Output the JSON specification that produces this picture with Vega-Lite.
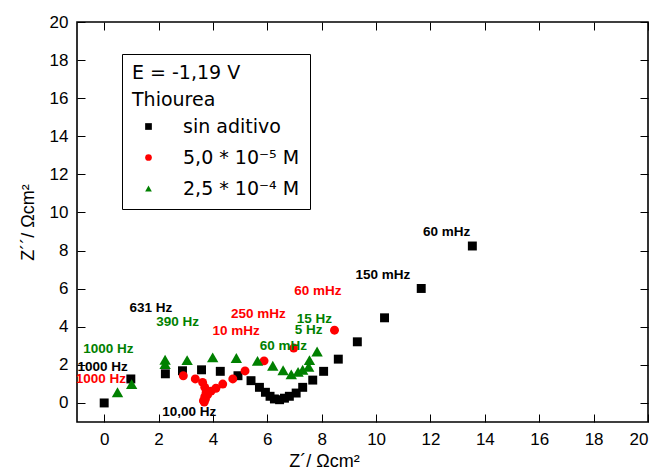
{
  "$schema": "https://vega.github.io/schema/vega-lite/v6.json",
  "width": 571,
  "height": 400,
  "autosize": {"type": "none"},
  "padding": {"left": 77, "top": 22, "right": 10, "bottom": 49},
  "background": "white",
  "datasets": {
    "pts": [
      {"series": "sin aditivo", "x": 0.0, "y": 0.0},
      {"series": "sin aditivo", "x": 0.98, "y": 1.26},
      {"series": "sin aditivo", "x": 2.25, "y": 1.53},
      {"series": "sin aditivo", "x": 2.88, "y": 1.69},
      {"series": "sin aditivo", "x": 3.58, "y": 1.74},
      {"series": "sin aditivo", "x": 4.27, "y": 1.66},
      {"series": "sin aditivo", "x": 4.92, "y": 1.43},
      {"series": "sin aditivo", "x": 5.40, "y": 1.17},
      {"series": "sin aditivo", "x": 5.71, "y": 0.82},
      {"series": "sin aditivo", "x": 5.93, "y": 0.56},
      {"series": "sin aditivo", "x": 6.10, "y": 0.35},
      {"series": "sin aditivo", "x": 6.26, "y": 0.21},
      {"series": "sin aditivo", "x": 6.45, "y": 0.17},
      {"series": "sin aditivo", "x": 6.63, "y": 0.25},
      {"series": "sin aditivo", "x": 6.81, "y": 0.35},
      {"series": "sin aditivo", "x": 7.06, "y": 0.52},
      {"series": "sin aditivo", "x": 7.30, "y": 0.82},
      {"series": "sin aditivo", "x": 7.67, "y": 1.20},
      {"series": "sin aditivo", "x": 8.07, "y": 1.66},
      {"series": "sin aditivo", "x": 8.61, "y": 2.30},
      {"series": "sin aditivo", "x": 9.31, "y": 3.21},
      {"series": "sin aditivo", "x": 10.31, "y": 4.47},
      {"series": "sin aditivo", "x": 11.66, "y": 6.01},
      {"series": "sin aditivo", "x": 13.54, "y": 8.24},
      {"series": "5,0 * 10⁻⁵ M", "x": 2.91, "y": 1.43},
      {"series": "5,0 * 10⁻⁵ M", "x": 3.35, "y": 1.26},
      {"series": "5,0 * 10⁻⁵ M", "x": 3.62, "y": 1.08},
      {"series": "5,0 * 10⁻⁵ M", "x": 3.70, "y": 0.82},
      {"series": "5,0 * 10⁻⁵ M", "x": 3.75, "y": 0.56},
      {"series": "5,0 * 10⁻⁵ M", "x": 3.70, "y": 0.33},
      {"series": "5,0 * 10⁻⁵ M", "x": 3.65, "y": 0.12},
      {"series": "5,0 * 10⁻⁵ M", "x": 3.68, "y": 0.05},
      {"series": "5,0 * 10⁻⁵ M", "x": 3.72, "y": 0.20},
      {"series": "5,0 * 10⁻⁵ M", "x": 3.80, "y": 0.42},
      {"series": "5,0 * 10⁻⁵ M", "x": 3.93, "y": 0.62},
      {"series": "5,0 * 10⁻⁵ M", "x": 4.11, "y": 0.77},
      {"series": "5,0 * 10⁻⁵ M", "x": 4.36, "y": 0.99},
      {"series": "5,0 * 10⁻⁵ M", "x": 4.73, "y": 1.26},
      {"series": "5,0 * 10⁻⁵ M", "x": 5.18, "y": 1.68},
      {"series": "5,0 * 10⁻⁵ M", "x": 5.88, "y": 2.21},
      {"series": "5,0 * 10⁻⁵ M", "x": 6.97, "y": 2.88},
      {"series": "5,0 * 10⁻⁵ M", "x": 8.47, "y": 3.82},
      {"series": "2,5 * 10⁻⁴ M", "x": 0.49, "y": 0.56},
      {"series": "2,5 * 10⁻⁴ M", "x": 1.01, "y": 0.99},
      {"series": "2,5 * 10⁻⁴ M", "x": 2.24, "y": 2.04},
      {"series": "2,5 * 10⁻⁴ M", "x": 2.24, "y": 2.27},
      {"series": "2,5 * 10⁻⁴ M", "x": 3.05, "y": 2.25},
      {"series": "2,5 * 10⁻⁴ M", "x": 3.99, "y": 2.39},
      {"series": "2,5 * 10⁻⁴ M", "x": 4.86, "y": 2.36},
      {"series": "2,5 * 10⁻⁴ M", "x": 5.64, "y": 2.21},
      {"series": "2,5 * 10⁻⁴ M", "x": 6.20, "y": 1.95},
      {"series": "2,5 * 10⁻⁴ M", "x": 6.58, "y": 1.72},
      {"series": "2,5 * 10⁻⁴ M", "x": 6.88, "y": 1.50},
      {"series": "2,5 * 10⁻⁴ M", "x": 7.13, "y": 1.63},
      {"series": "2,5 * 10⁻⁴ M", "x": 7.30, "y": 1.74},
      {"series": "2,5 * 10⁻⁴ M", "x": 7.52, "y": 1.90},
      {"series": "2,5 * 10⁻⁴ M", "x": 7.55, "y": 2.25},
      {"series": "2,5 * 10⁻⁴ M", "x": 7.83, "y": 2.70}
    ],
    "labs": [
      {"series": "2,5 * 10⁻⁴ M", "x": 0.15, "y": 2.83, "text": "1000 Hz"},
      {"series": "sin aditivo", "x": -0.06, "y": 1.90, "text": "1000 Hz"},
      {"series": "5,0 * 10⁻⁵ M", "x": -0.12, "y": 1.26, "text": "1000 Hz"},
      {"series": "sin aditivo", "x": 1.72, "y": 4.96, "text": "631 Hz"},
      {"series": "2,5 * 10⁻⁴ M", "x": 2.70, "y": 4.23, "text": "390 Hz"},
      {"series": "sin aditivo", "x": 3.13, "y": -0.49, "text": "10,00 Hz"},
      {"series": "5,0 * 10⁻⁵ M", "x": 5.67, "y": 4.66, "text": "250 mHz"},
      {"series": "5,0 * 10⁻⁵ M", "x": 4.85, "y": 3.79, "text": "10 mHz"},
      {"series": "2,5 * 10⁻⁴ M", "x": 6.59, "y": 2.97, "text": "60 mHz"},
      {"series": "2,5 * 10⁻⁴ M", "x": 7.73, "y": 4.43, "text": "15 Hz"},
      {"series": "2,5 * 10⁻⁴ M", "x": 7.52, "y": 3.82, "text": "5 Hz"},
      {"series": "5,0 * 10⁻⁵ M", "x": 7.86, "y": 5.88, "text": "60 mHz"},
      {"series": "sin aditivo", "x": 10.25, "y": 6.70, "text": "150 mHz"},
      {"series": "sin aditivo", "x": 12.59, "y": 8.99, "text": "60 mHz"}
    ]
  },
  "layer": [
    {
      "data": {"name": "pts"},
      "transform": [{"filter": "datum.series !== '2,5 * 10⁻⁴ M'"}],
      "mark": {"type": "point", "filled": true, "opacity": 1, "size": 80},
      "encoding": {
        "x": {
          "field": "x", "type": "quantitative",
          "scale": {"domain": [-1, 20], "nice": false, "zero": false},
          "axis": {"orient": "bottom", "title": "Z´/ Ωcm²", "values": [0,2,4,6,8,10,12,14,16,18,20], "titleX": 247, "titleY": 30}
        },
        "y": {
          "field": "y", "type": "quantitative",
          "scale": {"domain": [-1, 20], "nice": false, "zero": false},
          "axis": {"orient": "left", "title": "Z´´/ Ωcm²", "values": [0,2,4,6,8,10,12,14,16,18,20], "titleX": -40, "titleY": 200}
        },
        "color": {
          "field": "series", "type": "nominal",
          "scale": {"domain": ["sin aditivo", "5,0 * 10⁻⁵ M", "2,5 * 10⁻⁴ M"], "range": ["#000000", "#ff0000", "#008000"]},
          "legend": {"title": ["E = -1,19 V", "Thiourea"], "symbolSize": 45}
        },
        "shape": {
          "field": "series", "type": "nominal",
          "scale": {"domain": ["sin aditivo", "5,0 * 10⁻⁵ M", "2,5 * 10⁻⁴ M"], "range": ["square", "circle", "triangle-up"]},
          "legend": {"title": ["E = -1,19 V", "Thiourea"], "symbolSize": 45}
        }
      }
    },
    {
      "data": {"name": "pts"},
      "transform": [{"filter": "datum.series === '2,5 * 10⁻⁴ M'"}],
      "mark": {"type": "point", "filled": true, "opacity": 1, "size": 130},
      "encoding": {
        "x": {"field": "x", "type": "quantitative", "axis": {"orient": "top", "labels": false, "title": null, "values": [0,2,4,6,8,10,12,14,16,18,20]}},
        "y": {"field": "y", "type": "quantitative", "axis": {"orient": "right", "labels": false, "title": null, "values": [0,2,4,6,8,10,12,14,16,18,20]}},
        "color": {"field": "series", "type": "nominal", "legend": null},
        "shape": {"field": "series", "type": "nominal", "legend": null}
      }
    },
    {
      "data": {"name": "labs"},
      "mark": {"type": "text", "font": "Liberation Sans", "fontSize": 13.5, "fontWeight": "bold", "align": "center", "baseline": "middle"},
      "encoding": {
        "x": {"field": "x", "type": "quantitative", "axis": null},
        "y": {"field": "y", "type": "quantitative", "axis": null},
        "text": {"field": "text"},
        "color": {"field": "series", "type": "nominal", "legend": null}
      }
    }
  ],
  "resolve": {"axis": {"x": "independent", "y": "independent"}},
  "config": {
    "view": {"stroke": "#000000", "strokeWidth": 1.6},
    "font": "Liberation Sans",
    "axis": {
      "grid": false,
      "domain": false,
      "ticks": true,
      "tickSize": -8,
      "tickColor": "#000000",
      "tickWidth": 1,
      "labelFont": "Liberation Sans",
      "labelFontSize": 17,
      "labelColor": "#000000",
      "labelPadding": 17,
      "titleFont": "Liberation Sans",
      "titleFontSize": 18,
      "titleFontWeight": "normal",
      "titleColor": "#000000"
    },
    "legend": {
      "orient": "none",
      "legendX": 45,
      "legendY": 32,
      "strokeColor": "#000000",
      "strokeWidth": 1,
      "padding": 10,
      "titleFont": "DejaVu Sans",
      "titleFontSize": 19,
      "titleFontWeight": "normal",
      "titleColor": "#000000",
      "titleLineHeight": 27,
      "titlePadding": 7,
      "labelFont": "DejaVu Sans",
      "labelFontSize": 19,
      "labelColor": "#000000",
      "symbolSize": 45,
      "symbolOffset": 7,
      "labelOffset": 25,
      "rowPadding": 11,
      "labelLimit": 300
    }
  }
}
